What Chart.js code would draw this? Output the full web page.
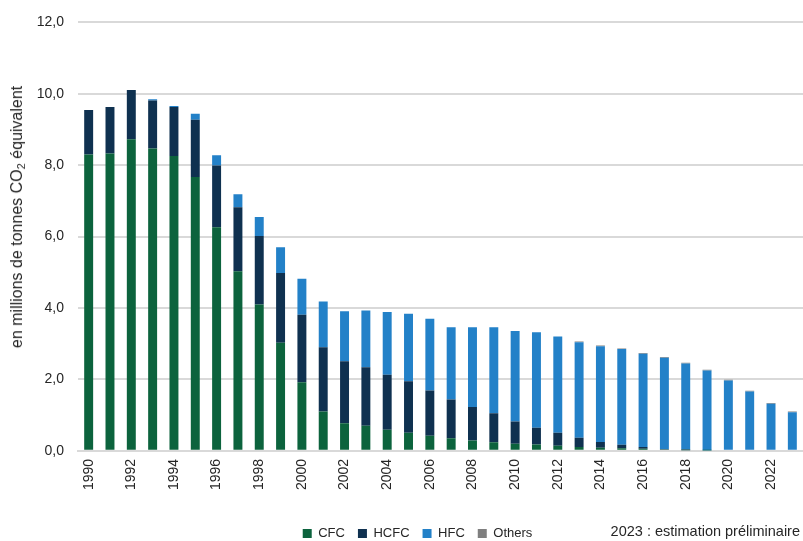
<!DOCTYPE html>
<html>
<head>
<meta charset="utf-8">
<script src="https://cdn.jsdelivr.net/npm/chart.js@4/dist/chart.umd.min.js"></script>
<style>
  html, body { margin: 0; padding: 0; background: #fff; }
  #wrap { position: relative; width: 803px; height: 541px; }
  #note { position: absolute; right: 3px; top: 523px; font: 14.5px "Liberation Sans", Arial, sans-serif; color: #262626; white-space: nowrap; }
  #ytitle {
    position: absolute; left: 17px; top: 217px;
    transform: translate(-50%, -50%) rotate(-90deg);
    font: 16px "Liberation Sans", Arial, sans-serif; color: #262626; white-space: nowrap;
  }
  #ytitle sub { font-size: 11px; vertical-align: -3px; line-height: 0; }
</style>
</head>
<body>
<div id="wrap">
  <canvas id="c" width="803" height="541"></canvas>
  <div id="ytitle">en millions de tonnes CO<sub>2</sub> équivalent</div>
  <div id="note">2023 : estimation préliminaire</div>
</div>
<script>
// Fluorinated gas emissions by family, millions of tonnes CO2 equivalent
const years = [1990,1991,1992,1993,1994,1995,1996,1997,1998,1999,2000,2001,2002,2003,2004,2005,2006,2007,2008,2009,2010,2011,2012,2013,2014,2015,2016,2017,2018,2019,2020,2021,2022,2023];
const cfc    = [8.30,8.33,8.73,8.47,8.26,7.67,6.26,5.03,4.10,3.03,1.92,1.10,0.77,0.70,0.59,0.51,0.42,0.35,0.29,0.24,0.20,0.18,0.14,0.11,0.09,0.07,0.06,0.04,0.02,0.01,0.00,0.00,0.00,0.00];
const hcfc   = [1.25,1.30,1.38,1.34,1.37,1.60,1.73,1.79,1.92,1.95,1.89,1.80,1.74,1.64,1.54,1.44,1.27,1.09,0.94,0.81,0.62,0.47,0.37,0.26,0.16,0.10,0.05,0.01,0.02,0.00,0.00,0.00,0.00,0.00];
const hfc    = [0.00,0.00,0.00,0.04,0.03,0.17,0.29,0.37,0.53,0.72,1.01,1.28,1.40,1.59,1.76,1.89,2.01,2.02,2.23,2.41,2.54,2.67,2.69,2.67,2.68,2.68,2.61,2.56,2.41,2.24,1.97,1.66,1.32,1.08];
const others = [0,0,0,0,0,0,0,0,0,0,0,0,0,0,0,0,0,0,0,0,0,0,0,0.02,0.02,0.02,0.02,0.02,0.02,0.02,0.02,0.02,0.02,0.02];
const yTicks = [0,2,4,6,8,10,12];

const FONT = '"Liberation Sans", Arial, sans-serif';

const mkSet = (label, data, color) => ({
  label, data, backgroundColor: color, borderWidth: 0,
  barPercentage: 0.42, categoryPercentage: 1.0, stack: 's'
});

// Nudge the legend row to sit lower and slightly right of centre
const legendShift = {
  id: 'legendShift',
  afterLayout(chart) {
    const lg = chart.legend;
    if (!lg) return;
    const dx = 14, dy = 11;
    lg.left += dx; lg.right += dx;
    lg.top += dy; lg.bottom += dy;
  }
};

new Chart(document.getElementById('c'), {
  type: 'bar',
  data: {
    labels: years.map(String),
    datasets: [
      mkSet('CFC', cfc, '#0c633d'),
      mkSet('HCFC', hcfc, '#0f3150'),
      mkSet('HFC', hfc, '#2381c8'),
      mkSet('Others', others, '#7f7f7f')
    ]
  },
  plugins: [legendShift],
  options: {
    responsive: false,
    animation: false,
    layout: { padding: { left: 4, right: 0, top: 22, bottom: 2 } },
    plugins: {
      tooltip: { enabled: false },
      legend: {
        position: 'bottom',
        labels: {
          boxWidth: 9, boxHeight: 9, padding: 13,
          color: '#262626',
          font: { family: FONT, size: 13 }
        }
      }
    },
    scales: {
      x: {
        stacked: true,
        grid: { display: false, drawTicks: false },
        border: { color: '#d9d9d9', width: 2 },
        afterFit: s => { s.paddingRight = 0; s.paddingLeft = 0; s.height += 5; },
        ticks: {
          autoSkip: false, maxRotation: 90, minRotation: 90, padding: 8,
          color: '#262626', font: { family: FONT, size: 14 },
          callback: (v, i) => (i % 2 === 0 ? years[i] : '')
        }
      },
      y: {
        stacked: true,
        min: 0, max: 12,
        afterBuildTicks: s => { s.ticks = yTicks.map(v => ({ value: v })); },
        afterFit: s => { s.width = 74; },
        grid: { color: '#d9d9d9', lineWidth: 2, drawTicks: false },
        border: { display: false },
        ticks: {
          padding: 14, color: '#262626', font: { family: FONT, size: 14 },
          callback: v => v.toFixed(1).replace('.', ',')
        }
      }
    }
  }
});
</script>
</body>
</html>
